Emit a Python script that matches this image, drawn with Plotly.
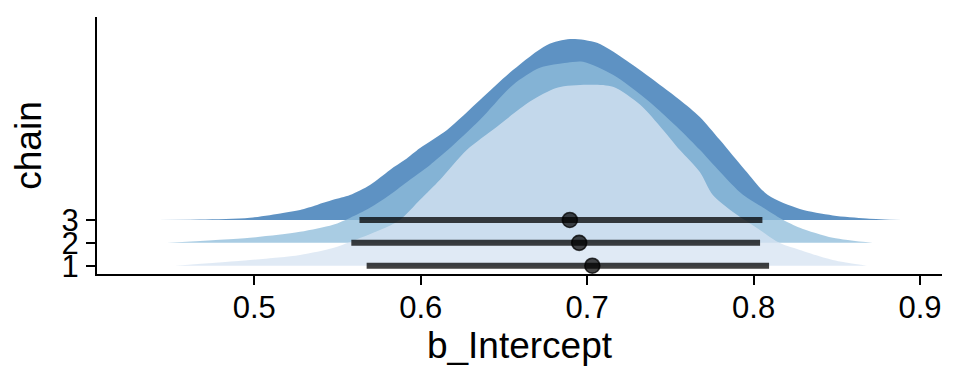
import plotly.graph_objects as go

# ---- data ----
chains = [1, 2, 3]
chain_labels = ["1", "2", "3"]

# slab outline for each chain: x value and slab height (in chain-axis units)
dens_x_1 = [0.4524, 0.4974, 0.5275, 0.5473, 0.5575, 0.5755, 0.5875, 0.5996, 0.6116, 0.6278,
            0.6458, 0.6656, 0.6819, 0.6999, 0.7155, 0.7317, 0.7455, 0.7557, 0.7677, 0.7755,
            0.7876, 0.8020, 0.8158, 0.8278, 0.8476, 0.8680]
dens_h_1 = [0.00, 0.25, 0.47, 0.77, 1.04, 1.56, 2.00, 2.88, 3.76, 5.07,
            6.08, 7.18, 7.79, 7.92, 7.83, 7.05, 5.95, 5.06, 4.10, 3.09,
            2.35, 1.65, 0.99, 0.69, 0.25, 0.00]

dens_x_2 = [0.4476, 0.4974, 0.5275, 0.5473, 0.5575, 0.5695, 0.5815, 0.5935, 0.6056, 0.6164,
            0.6356, 0.6554, 0.6716, 0.6879, 0.6975, 0.7155, 0.7359, 0.7557, 0.7677, 0.7798,
            0.7936, 0.8080, 0.8176, 0.8278, 0.8476, 0.8716]
dens_h_2 = [0.00, 0.22, 0.48, 0.79, 1.09, 1.53, 2.10, 2.76, 3.41, 4.07,
            5.38, 6.91, 7.66, 7.88, 7.92, 7.35, 6.26, 4.95, 4.07, 3.11,
            2.10, 1.44, 1.01, 0.66, 0.22, 0.00]

dens_x_3 = [0.4289, 0.4674, 0.4974, 0.5172, 0.5275, 0.5377, 0.5473, 0.5575, 0.5695, 0.5815,
            0.5905, 0.5996, 0.6158, 0.6356, 0.6554, 0.6759, 0.6897, 0.7059, 0.7257, 0.7455,
            0.7557, 0.7677, 0.7798, 0.7948, 0.8086, 0.8278, 0.8476, 0.8680, 0.8890]
dens_h_3 = [0.00, 0.02, 0.10, 0.31, 0.44, 0.66, 0.88, 1.09, 1.53, 2.19,
            2.63, 3.15, 3.94, 5.25, 6.56, 7.66, 7.92, 7.75, 6.87, 5.82,
            5.25, 4.51, 3.50, 2.19, 1.09, 0.48, 0.20, 0.07, 0.00]

point_est = [0.7031, 0.6952, 0.6896]
int_lo = [0.5675, 0.5583, 0.5632]
int_hi = [0.8093, 0.8039, 0.8053]

x_ticks = [0.5, 0.6, 0.7, 0.8, 0.9]
x_tick_labels = ["0.5", "0.6", "0.7", "0.8", "0.9"]

slab_x = {1: dens_x_1, 2: dens_x_2, 3: dens_x_3}
slab_h = {1: dens_h_1, 2: dens_h_2, 3: dens_h_3}
fill_colors = {3: "rgba(46,113,177,0.77)", 2: "rgba(143,189,219,0.77)", 1: "rgba(215,228,242,0.77)"}

FONT = "Liberation Sans, Arial, Helvetica, sans-serif"

fig = go.Figure()

# slabs: drawn back to front (chain 3 first)
for c in [3, 2, 1]:
    xs = slab_x[c]
    hs = slab_h[c]
    fig.add_trace(go.Scatter(x=xs, y=[c] * len(xs), mode="lines",
                             line=dict(width=0, color="rgba(0,0,0,0)"),
                             hoverinfo="skip", showlegend=False))
    fig.add_trace(go.Scatter(x=xs, y=[c + h for h in hs], mode="lines",
                             line=dict(width=0, shape="spline", smoothing=0.8,
                                       color="rgba(0,0,0,0)"),
                             fill="tonexty", fillcolor=fill_colors[c],
                             hoverinfo="skip", showlegend=False))

# intervals
for c, lo, hi in zip(chains, int_lo, int_hi):
    fig.add_trace(go.Scatter(x=[lo, hi], y=[c, c], mode="lines",
                             line=dict(width=6, color="rgba(0,0,0,0.75)"),
                             hoverinfo="skip", showlegend=False))

# point estimates
fig.add_trace(go.Scatter(x=point_est, y=chains, mode="markers",
                         marker=dict(size=15, color="rgba(0,0,0,0.72)",
                                     line=dict(width=1.6, color="rgba(0,0,0,0.75)")),
                         hoverinfo="skip", showlegend=False))

fig.update_layout(
    width=960, height=384,
    margin=dict(l=89, r=26, t=9, b=118),
    paper_bgcolor="white", plot_bgcolor="white",
    font=dict(family=FONT, color="black"),
    showlegend=False,
)
fig.update_xaxes(
    range=[0.4055, 0.9132], tickvals=x_ticks, ticktext=x_tick_labels,
    showgrid=False, zeroline=False,
    showline=True, linecolor="black", linewidth=2,
    ticks="outside", ticklen=9, tickwidth=2, tickcolor="black",
    ticklabelstandoff=-4,
    tickfont=dict(size=31, color="black", family=FONT),
    title=dict(text="b_Intercept", font=dict(size=37, color="black", family=FONT), standoff=8),
)
fig.update_yaxes(
    range=[0.637, 11.88], tickvals=chains, ticktext=chain_labels,
    showgrid=False, zeroline=False,
    showline=True, linecolor="black", linewidth=2,
    ticks="outside", ticklen=9, tickwidth=2, tickcolor="black",
    ticklabelstandoff=1,
    tickfont=dict(size=31, color="black", family=FONT),
    title=dict(text="chain", font=dict(size=37, color="black", family=FONT), standoff=12),
)

fig.write_html("out.html")
